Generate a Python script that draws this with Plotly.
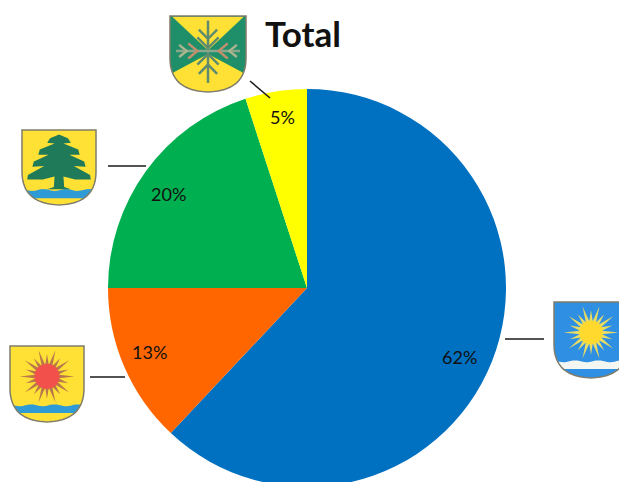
import math
import numpy as np
import plotly.graph_objects as go

W, H = 619, 490  # the pie runs past the lower edge of the 482 px window
categories = ["Blue", "Orange", "Green", "Yellow"]
values = [62, 13, 20, 5]
colors = ["#0070C0", "#FF6600", "#00B050", "#FFFF00"]
label_texts = ["62%", "13%", "20%", "5%"]
label_px = [(459, 357), (149, 352), (168, 194), (282, 117)]
leaders = [(505, 339, 544, 339), (90, 377, 125, 377), (108, 166, 146, 166), (250, 81, 270, 98)]
CX, CY, R = 307, 288, 199

YEL, GRN, BLU, SKY, EDGE = "#FFE135", "#1E8F68", "#2E9BD6", "#2F8FE3", "#7F7D6A"
shapes = []
px = lambda x: x / W
py = lambda y: 1 - y / H

def poly(pts, fill, line=None, lw=0, close=True):
    d = "M" + " L".join(f"{px(x):.5f},{py(y):.5f}" for x, y in pts) + (" Z" if close else "")
    shapes.append(dict(type="path", path=d, xref="paper", yref="paper",
                       fillcolor=fill if close else "rgba(0,0,0,0)", line=dict(color=line or "rgba(0,0,0,0)", width=lw)))

def outline():
    t = np.linspace(0, 1, 30)
    b = lambda p0, p1, p2, p3: (1-t)**3*p0 + 3*(1-t)**2*t*p1 + 3*(1-t)*t**2*p2 + t**3*p3
    right = list(zip(b(1, 1, .84, .5), b(.55, .84, .985, 1)))
    left = [(1-x, y) for x, y in reversed(right)]
    return [(0, 0), (1, 0)] + right + left[1:]

OUT = outline()
RIGHT = OUT[2:32]

def half(y):
    if y <= .55:
        return .5
    return min(RIGHT, key=lambda p: abs(p[1]-y))[0] - .5

def to(b, pts):
    x0, y0, w, h = b
    return [(x0 + x*w, y0 + y*h) for x, y in pts]

def band(b, y0, y1, col, wave=0.012):
    xs = np.linspace(0, 1, 41)
    top = []
    for x in xs:
        y = y0 + wave*math.sin(x*18)
        hw = half(y)
        top.append((.5 - hw + 2*hw*x, y))
    ys = np.linspace(y0, y1, 12)
    right = [(.5+half(y), y) for y in ys]
    left = [(.5-half(y), y) for y in ys[::-1]]
    poly(to(b, top + right + left), col)

def sun(b, cx, cy, core, ray, corecol, n=20, rlen=.30):
    x0, y0, w, h = b
    cxp, cyp = x0+cx*w, y0+cy*h
    for i in range(n):
        a = 2*math.pi*i/n
        L = rlen*w*(1 if i % 2 == 0 else .82)
        pa = a + math.pi/2
        bw = 2
        poly([(cxp+core*w*.8*math.cos(a)+bw*math.cos(pa), cyp+core*w*.8*math.sin(a)+bw*math.sin(pa)),
              (cxp+L*math.cos(a), cyp+L*math.sin(a)),
              (cxp+core*w*.8*math.cos(a)-bw*math.cos(pa), cyp+core*w*.8*math.sin(a)-bw*math.sin(pa))], ray)
    cp = [(cxp+core*w*math.cos(k/24*2*math.pi), cyp+core*w*math.sin(k/24*2*math.pi)) for k in range(24)]
    poly(cp, corecol)

# top shield
b = (170, 16, 76, 76)
poly(to(b, OUT), GRN)
poly(to(b, [(.03, .01), (.97, .01), (.5, .45)]), YEL)
poly(to(b, [(.5, .5), (.95, .74)] + [p for p in RIGHT if p[1] > .74] + [(1-x, y) for x, y in reversed(RIGHT) if y > .74] + [(.05, .74)]), YEL)
s = "#5E8B70"
for seg, col in [
    ([(.5, .06), (.5, .88)], s), ([(.08, .46), (.92, .46)], "#8DA58A"),
    ([(.38, .18), (.5, .3), (.62, .18)], s), ([(.36, .28), (.5, .42), (.64, .28)], s),
    ([(.38, .76), (.5, .64), (.62, .76)], s), ([(.36, .64), (.5, .5), (.64, .64)], s),
    ([(.12, .38), (.22, .46), (.12, .54)], "#A9B48F"), ([(.24, .36), (.36, .46), (.24, .56)], "#C08F6E"),
    ([(.88, .38), (.78, .46), (.88, .54)], "#A9B48F"), ([(.76, .36), (.64, .46), (.76, .56)], "#C08F6E")]:
    poly(to(b, seg), None, col, 2.5, close=False)
poly(to(b, OUT), "rgba(0,0,0,0)", EDGE, 1.5)

# tree shield
b = (22, 130, 74, 75)
poly(to(b, OUT), YEL)
band(b, .80, .91, BLU)
tree = [(.5, .06), (.62, .11), (.66, .17), (.56, .18), (.76, .26), (.78, .33), (.64, .33), (.84, .42), (.86, .49), (.7, .48),
        (.92, .6), (.93, .66), (.72, .66), (.56, .62), (.57, .76), (.66, .79), (.34, .79), (.43, .76), (.44, .62), (.28, .66),
        (.07, .66), (.08, .6), (.3, .48), (.14, .49), (.16, .42), (.36, .33), (.22, .33), (.24, .26), (.44, .18), (.34, .17), (.38, .11)]
poly(to(b, tree), "#1F7A5A")
poly(to(b, OUT), "rgba(0,0,0,0)", EDGE, 1.5)

# red sun shield
b = (10, 346, 74, 76)
poly(to(b, OUT), YEL)
band(b, .78, .88, BLU)
sun(b, .5, .40, .17, "#B9784A", "#F2504A", n=20, rlen=.37)
poly(to(b, OUT), "rgba(0,0,0,0)", EDGE, 1.5)

# blue sun shield
b = (554, 302, 74, 76)
poly(to(b, OUT), SKY)
band(b, .78, .88, "#F4F6F2")
sun(b, .5, .40, .16, "#E8DC62", "#FFD92E", n=20, rlen=.37)
poly(to(b, OUT), "rgba(0,0,0,0)", EDGE, 1.5)

for x0, y0, x1, y1 in leaders:
    shapes.append(dict(type="line", xref="paper", yref="paper", x0=px(x0), y0=py(y0), x1=px(x1), y1=py(y1),
                       line=dict(color="#1a1a1a", width=1.5)))

annotations = [dict(x=px(x), y=py(y), xref="paper", yref="paper", text=t, showarrow=False,
                    xanchor="center", yanchor="middle",
                    font=dict(family="Lato, Carlito, sans-serif", size=18, color="#111"))
               for t, (x, y) in zip(label_texts, label_px)]
annotations.append(dict(x=px(303), y=py(33), xref="paper", yref="paper", text="<b>Total</b>", showarrow=False,
                        xanchor="center", yanchor="middle",
                        font=dict(family="Lato, Carlito, sans-serif", size=35, color="#111")))

fig = go.Figure(go.Pie(labels=categories, values=values, sort=False, direction="clockwise", rotation=0,
                       marker=dict(colors=colors, line=dict(width=0)), textinfo="none", hoverinfo="label+percent",
                       domain=dict(x=[px(CX-R), px(CX+R)], y=[py(CY+R), py(CY-R)]), showlegend=False))
fig.update_layout(width=W, height=H, margin=dict(l=0, r=0, t=0, b=0), paper_bgcolor="white",
                  shapes=shapes, annotations=annotations)
fig.write_html("out.html", config=dict(displayModeBar=False),
               post_script="document.documentElement.style.overflow='hidden';document.body.style.overflow='hidden';document.body.style.margin='0';")
